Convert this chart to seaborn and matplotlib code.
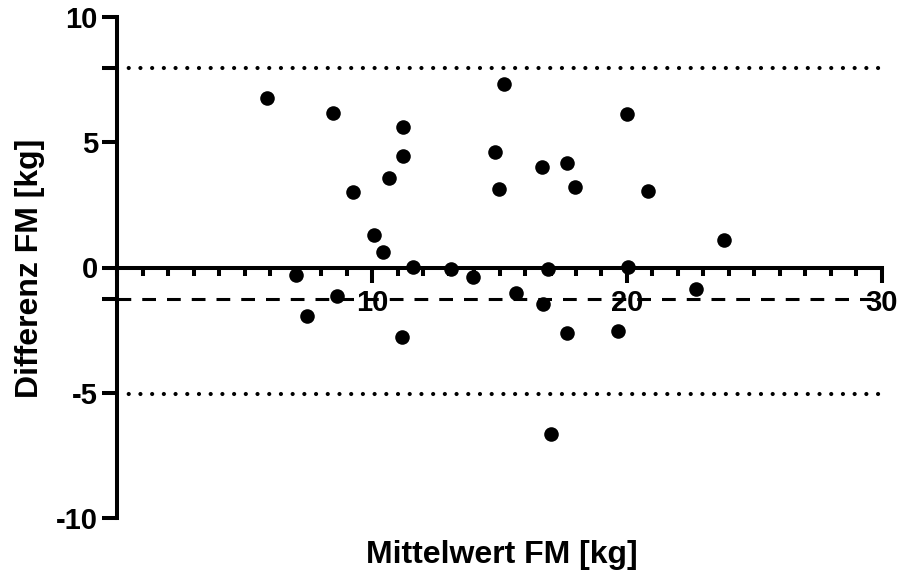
import matplotlib
matplotlib.use("Agg")
import matplotlib.pyplot as plt
import seaborn as sns
import pandas as pd
from matplotlib.ticker import MultipleLocator

mean_fm = [5.88, 7.01, 7.43, 8.47, 8.63, 9.23, 10.08, 10.44, 10.67, 11.16, 11.22,
           11.22, 11.61, 13.08, 13.94, 14.82, 14.99, 15.17, 15.64, 16.65, 16.69,
           16.89, 17.01, 17.66, 17.66, 17.95, 19.64, 19.99, 20.05, 20.84, 22.71, 23.82]
diff_fm = [6.75, -0.30, -1.94, 6.16, -1.14, 3.03, 1.30, 0.63, 3.58, -2.76, 4.45,
           5.62, 0.03, -0.07, -0.37, 4.62, 3.13, 7.33, -1.01, 4.00, -1.46,
           -0.06, -6.66, 4.18, -2.60, 3.21, -2.53, 6.13, 0.01, 3.05, -0.87, 1.10]
bias = -1.26
upper_loa = 7.96
lower_loa = -5.05
x_ticks = [10, 20, 30]
y_ticks = [-10, -5, 0, 5, 10]
y_labels = ["-10", "-5", "0", "5", "10"]

sns.set_style("ticks")
plt.rcParams['font.family'] = ['Liberation Sans', 'DejaVu Sans']
plt.rcParams['font.weight'] = 'bold'
plt.rcParams['text.color'] = 'black'
plt.rcParams['axes.labelcolor'] = 'black'
plt.rcParams['xtick.color'] = 'black'
plt.rcParams['ytick.color'] = 'black'
plt.rcParams['axes.edgecolor'] = 'black'

df = pd.DataFrame({"x": mean_fm, "y": diff_fm})

fig = plt.figure(figsize=(9.01, 5.80), dpi=100)
ax = fig.add_axes([117.4 / 901, (580 - 518) / 580, (881.7 - 117.4) / 901, (518 - 17) / 580])

sns.scatterplot(data=df, x="x", y="y", ax=ax, s=110, color="black",
                edgecolor="black", linewidth=0, clip_on=False, zorder=5)

ax.set_xlim(0, 30)
ax.set_ylim(-10, 10)

# reference lines
ax.axhline(bias, color="black", lw=2.2, linestyle=(0, (4.5, 3.6)), zorder=3)
for v in (upper_loa, lower_loa):
    ax.axhline(v, color="black", lw=3.0, linestyle=(0, (0.01, 2.8)),
               dash_capstyle="round", zorder=3)

# spines
for s in ("top", "right"):
    ax.spines[s].set_visible(False)
ax.spines["bottom"].set_position(("data", 0))
ax.spines["bottom"].set_linewidth(2.9)
ax.spines["left"].set_linewidth(2.9)
ax.spines["left"].set_bounds(-10, 10)
ax.spines["bottom"].set_bounds(0, 30)

ax.set_xticks(x_ticks)
ax.set_xticklabels([str(t) for t in x_ticks])
ax.xaxis.set_minor_locator(MultipleLocator(1))
ax.set_yticks(y_ticks + [upper_loa, bias])
ax.set_yticklabels(y_labels + ["", ""])

ax.tick_params(axis="x", which="major", direction="out", length=10.5, width=2.9,
               labelsize=21, pad=5, color="black", labelcolor="black")
ax.tick_params(axis="x", which="minor", direction="out", length=6, width=2.9,
               color="black")
ax.tick_params(axis="y", which="major", direction="out", length=11, width=2.9,
               labelsize=21, pad=3, color="black", labelcolor="black")
for lab in ax.get_xticklabels() + ax.get_yticklabels():
    lab.set_fontweight("bold")

ax.set_xlabel("")
ax.set_ylabel("")
fig.text(502 / 901, 1 - 555 / 580, "Mittelwert FM [kg]", ha="center", va="center",
         fontsize=23, fontweight="bold", color="black")
fig.text(30 / 901, 1 - 268 / 580, "Differenz FM [kg]", ha="center", va="center",
         fontsize=23, fontweight="bold", rotation=90, color="black")

fig.savefig("out.png", dpi=100)
